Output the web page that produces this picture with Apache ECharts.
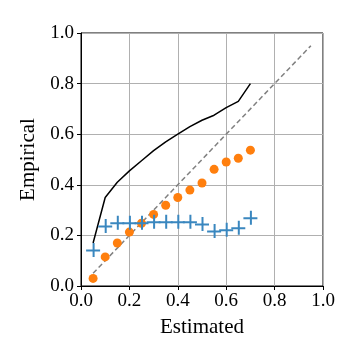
<!DOCTYPE html>
<html>
<head>
<meta charset="utf-8">
<script src="https://cdn.jsdelivr.net/npm/echarts@6/dist/echarts.min.js"></script>
<style>
  html, body { margin: 0; padding: 0; background: #fff; }
  #chart { width: 360px; height: 360px; }
</style>
</head>
<body>
<div id="chart"></div>
<script>
// 数据
const estimated = [0.05, 0.1, 0.15, 0.2, 0.25, 0.3, 0.35, 0.4, 0.45, 0.5, 0.55, 0.6, 0.65, 0.7]
const curveValues = [0.17, 0.35, 0.41, 0.455, 0.495, 0.535, 0.57, 0.60, 0.63, 0.655, 0.675, 0.705, 0.73, 0.80]
const dotValues = [0.03, 0.115, 0.17, 0.213, 0.248, 0.283, 0.319, 0.35, 0.379, 0.407, 0.461, 0.49, 0.505, 0.537]
const crossValues = [0.142, 0.237, 0.25, 0.25, 0.25, 0.254, 0.254, 0.254, 0.254, 0.245, 0.217, 0.222, 0.23, 0.27]
const diagonal = [[0.05, 0.05], [0.95, 0.95]]
const tickLabels = ['0.0', '0.2', '0.4', '0.6', '0.8', '1.0']

const pair = (xs, ys) => xs.map((x, i) => [x, ys[i]])
const font = 'Liberation Serif'

function axis (name, nameGap, margin) {
  return {
    type: 'value',
    min: 0,
    max: 1,
    interval: 0.2,
    name: name,
    nameLocation: 'middle',
    nameGap: nameGap,
    nameTextStyle: { fontFamily: font, fontSize: 21, color: '#000' },
    axisLine: { show: true, lineStyle: { color: '#000', width: 1 } },
    axisTick: { show: true, inside: false, length: 4, lineStyle: { color: '#000' } },
    axisLabel: {
      fontFamily: font,
      fontSize: 19,
      color: '#000',
      margin: margin,
      formatter: v => tickLabels[Math.round(v / 0.2)]
    },
    splitLine: { show: true, lineStyle: { color: '#b0b0b0', width: 1 } }
  }
}

const chart = echarts.init(document.getElementById('chart'))
chart.setOption({
  animation: false,
  grid: {
    left: 81, right: 37, top: 33, bottom: 74,
    show: true, borderColor: '#000', borderWidth: 1, backgroundColor: 'transparent'
  },
  xAxis: axis('Estimated', 31, 6),
  yAxis: axis('Empirical', 34, 7),
  series: [
    {
      type: 'line',
      data: diagonal,
      symbol: 'none',
      lineStyle: { color: '#808080', width: 1.5, type: [5, 3] },
      z: 2
    },
    {
      type: 'line',
      data: pair(estimated, curveValues),
      symbol: 'none',
      lineStyle: { color: '#000', width: 1.5 },
      z: 3
    },
    {
      type: 'scatter',
      data: pair(estimated, dotValues),
      symbol: 'circle',
      symbolSize: 9,
      itemStyle: { color: '#ff7f0e', opacity: 1 },
      z: 4
    },
    {
      type: 'scatter',
      data: pair(estimated, crossValues),
      symbol: 'path://M0,6.5L14,6.5L14,8.5L0,8.5Z M6.5,0L8.5,0L8.5,14L6.5,14Z',
      symbolSize: 14,
      itemStyle: { color: '#3a87bf', opacity: 1 },
      z: 5
    }
  ]
})
</script>
</body>
</html>
